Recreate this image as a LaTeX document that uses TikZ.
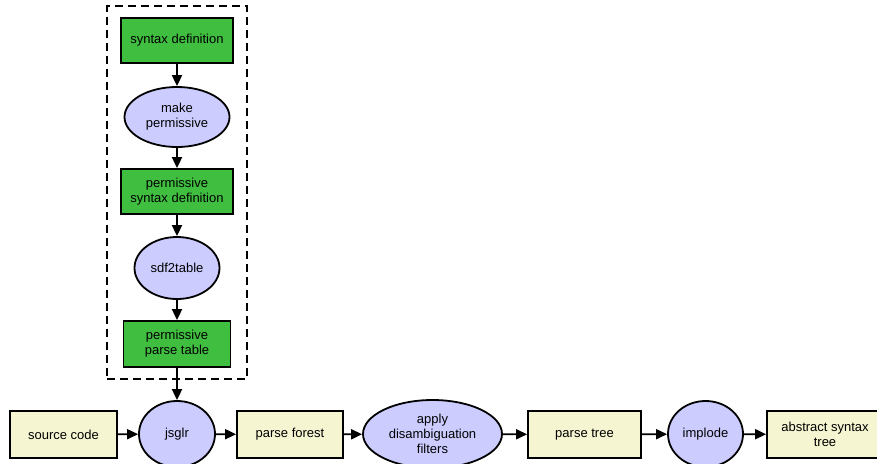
\documentclass[tikz,border=0pt]{standalone}
\usepackage{fontspec}
\setmainfont{Liberation Sans}
\usepackage{xcolor}
\usetikzlibrary{positioning,arrows.meta,fit,shapes.geometric}

\definecolor{defgreen}{RGB}{64,190,64}
\definecolor{toollav}{RGB}{204,204,255}
\definecolor{datacream}{RGB}{245,245,210}

\begin{document}
\begin{tikzpicture}[
    x=1pt, y=-1pt,
    defbox/.style={draw, line width=1.8pt, fill=defgreen, minimum width=112pt,
                   minimum height=45pt, inner sep=0pt, align=center,
                   font=\fontsize{13}{15}\selectfont},
    databox/.style={draw, line width=1.8pt, fill=datacream, minimum width=107pt,
                    minimum height=47pt, inner sep=0pt, align=center,
                    font=\fontsize{13}{15}\selectfont},
    tool/.style={draw, ellipse, line width=1.8pt, fill=toollav, inner sep=0pt,
                 align=center, font=\fontsize{13}{15}\selectfont},
    flow/.style={-{Triangle[length=11pt,width=10pt]}, line width=1.8pt},
    >=Stealth
]
\useasboundingbox (0,0) rectangle (877,463);

% permissive grammar pipeline
\node[defbox] (syndef) at (177, 40.5) {syntax definition};
\node[tool, minimum width=105pt, minimum height=60pt] (mkperm) at (177, 117) {make\\permissive};
\node[defbox] (psyndef) at (177, 191.5) {permissive\\syntax definition};
\node[tool, minimum width=85pt, minimum height=62pt] (sdftable) at (177, 268) {sdf2table};
\node[defbox, minimum width=107pt, minimum height=46pt] (ptable) at (177, 344) {permissive\\parse table};

\node[draw, dashed, line width=1.8pt, dash pattern=on 8pt off 5pt,
      inner xsep=13pt, inner ysep=11pt, fit=(syndef) (ptable)] (permgroup) {};

% parsing pipeline
\node[databox] (source) at (63.5, 434.5) {source code};
\node[tool, minimum width=76pt, minimum height=66pt] (jsglr) at (177, 434) {jsglr};
\node[databox, minimum width=106pt] (forest) at (290, 434.5) {parse forest};
\node[tool, minimum width=139pt, minimum height=68pt] (disamb) at (432.5, 434) {apply\\disambiguation\\filters};
\node[databox, minimum width=113pt] (ptree) at (584.5, 434.5) {parse tree};
\node[tool, minimum width=75pt, minimum height=66pt] (implode) at (705.5, 434) {implode};
\node[databox, minimum width=116pt] (ast) at (825, 434.5) {abstract syntax\\tree};

\draw[flow] (syndef) -- (mkperm);
\draw[flow] (mkperm) -- (psyndef);
\draw[flow] (psyndef) -- (sdftable);
\draw[flow] (sdftable) -- (ptable);
\draw[flow] (ptable) -- (jsglr);

\draw[flow] (source) -- (jsglr);
\draw[flow] (jsglr) -- (forest);
\draw[flow] (forest) -- (disamb);
\draw[flow] (disamb) -- (ptree);
\draw[flow] (ptree) -- (implode);
\draw[flow] (implode) -- (ast);
\end{tikzpicture}
\end{document}
